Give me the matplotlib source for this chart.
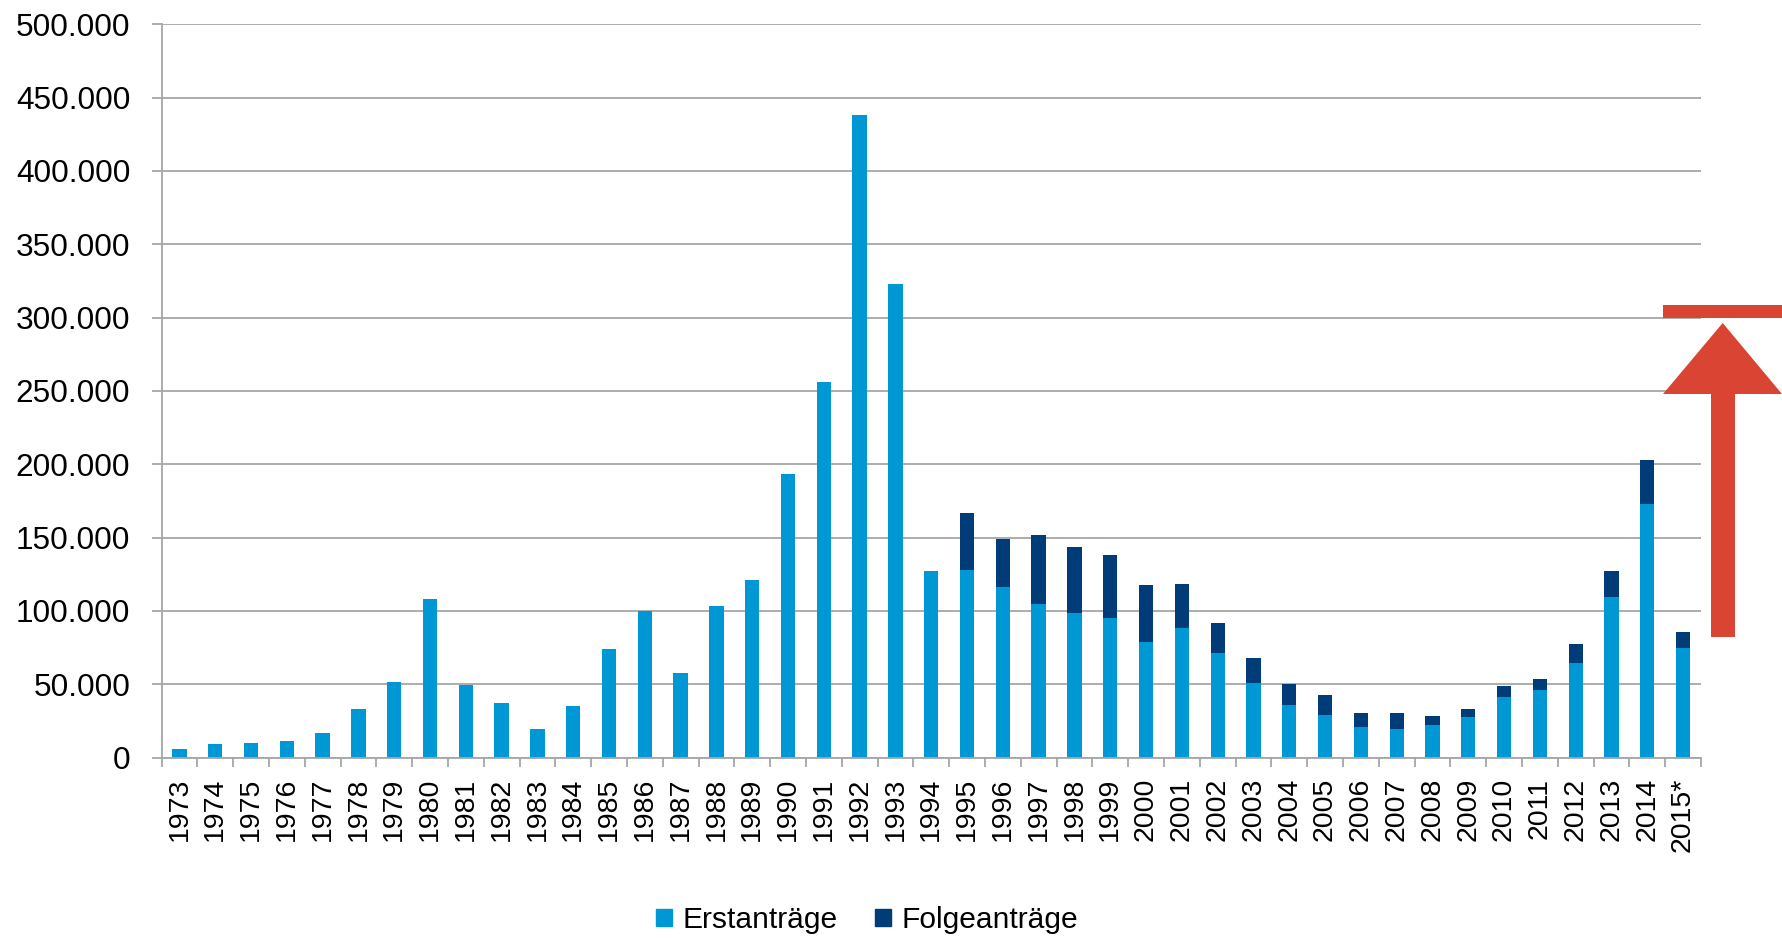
import matplotlib.pyplot as plt
from matplotlib.patches import Patch, Polygon, Rectangle
from matplotlib.ticker import FuncFormatter
import numpy as np

plt.rcParams['font.family'] = ['Liberation Sans', 'DejaVu Sans']

# Asylanträge je Jahr (2015: vorläufig)
years = ['1973', '1974', '1975', '1976', '1977', '1978', '1979', '1980', '1981', '1982',
         '1983', '1984', '1985', '1986', '1987', '1988', '1989', '1990', '1991', '1992',
         '1993', '1994', '1995', '1996', '1997', '1998', '1999', '2000', '2001', '2002',
         '2003', '2004', '2005', '2006', '2007', '2008', '2009', '2010', '2011', '2012',
         '2013', '2014', '2015*']
erst = [5595, 9424, 9627, 11123, 16410, 33136, 51493, 107818, 49391, 37423,
        19737, 35278, 73832, 99650, 57379, 103076, 121318, 193063, 256112, 438191,
        322599, 127210, 127937, 116367, 104353, 98644, 95113, 78564, 88287, 71127,
        50563, 35607, 28914, 21029, 19164, 22085, 27649, 41332, 45741, 64539,
        109580, 173072, 75000]
folge = [0, 0, 0, 0, 0, 0, 0, 0, 0, 0,
         0, 0, 0, 0, 0, 0, 0, 0, 0, 0,
         0, 0, 39014, 32826, 47347, 44785, 43206, 39084, 30019, 20344,
         17285, 14545, 13994, 9071, 11139, 5933, 5384, 7257, 7606, 13112,
         17443, 29762, 10500]

c_erst = '#0098D4'
c_folge = '#003C78'
c_grid = '#A6A6A6'

W, H = 1782, 938
fig = plt.figure(figsize=(W / 100, H / 100), dpi=100)
ax = fig.add_axes([161.5 / W, 1 - 757.5 / H, (1701 - 161.5) / W, (757.5 - 24.3) / H])

x = np.arange(len(years))
ax.bar(x, erst, width=0.4, color=c_erst, label='Erstanträge')
ax.bar(x, folge, width=0.4, bottom=erst, color=c_folge, label='Folgeanträge')

ax.set_xlim(-0.5, len(years) - 0.5)
ax.set_ylim(0, 500000)
ax.set_yticks(np.arange(0, 500001, 50000))
ax.yaxis.set_major_formatter(FuncFormatter(lambda v, p: f'{int(v):,}'.replace(',', '.')))
ax.grid(axis='y', color=c_grid, linewidth=1.3)
ax.set_axisbelow(True)

for s in ['top', 'right']:
    ax.spines[s].set_visible(False)
for s in ['left', 'bottom']:
    ax.spines[s].set_color(c_grid)
    ax.spines[s].set_linewidth(1.3)

ax.tick_params(axis='y', length=7.5, width=1.3, color=c_grid, pad=15, labelsize=22.7)

# Striche zwischen den Kategorien, Beschriftung in der Mitte
ax.set_xticks(x)
ax.set_xticklabels(years, rotation=90, fontsize=20.5)
ax.set_xticks(np.arange(-0.5, len(years), 1), minor=True)
ax.tick_params(axis='x', which='major', length=0, pad=14.5)
ax.tick_params(axis='x', which='minor', length=6.5, width=1.3, color=c_grid)

handles = [Patch(color=c_erst), Patch(color=c_folge)]
fig.legend(handles, ['Erstanträge', 'Folgeanträge'], loc='center',
           bbox_to_anchor=(867 / W, 1 - 920 / H), ncol=2, frameon=False,
           fontsize=21.6, handlelength=0.53, handleheight=0.53,
           handletextpad=0.33, columnspacing=1.27, borderpad=0)

# roter Pfeil rechts
ov = fig.add_axes([0, 0, 1, 1])
ov.set_xlim(0, W)
ov.set_ylim(H, 0)
ov.axis('off')
red = '#D94433'
ov.add_patch(Rectangle((1663, 305), 119, 12.7, color=red, lw=0))
ov.add_patch(Polygon([(1663, 394), (1722.7, 323), (1782, 394), (1735, 394),
                      (1735, 637), (1711, 637), (1711, 394)], closed=True, color=red, lw=0))

fig.savefig('out.png', dpi=100)
